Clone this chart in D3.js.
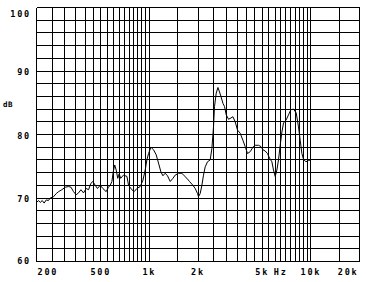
<!DOCTYPE html>
<html><head><meta charset="utf-8">
<script src="https://cdn.jsdelivr.net/npm/d3@7"></script>
<style>
html,body{margin:0;padding:0;background:#fff;}
text{font-family:"DejaVu Sans Mono",monospace;font-weight:bold;font-size:8.5px;letter-spacing:1.8px;fill:#000;}
</style></head>
<body><svg id="c" width="366" height="282"></svg>
<script>
// Frequency response data (Hz, dB)
const freqs = [200,206,211,217,223,230,237,243,255,265,274,287,301,316,327,339,352,364,377,391,406,420,434,447,462,477,496,515,540,558,572,586,597,610,623,637,650,664,691,726,743,779,805,837,877,912,942,965,988,1022,1061,1102,1139,1179,1213,1253,1295,1346,1399,1445,1515,1590,1643,1707,1772,1860,1922,1986,2014,2063,2114,2163,2216,2290,2380,2438,2495,2531,2593,2657,2719,2774,2855,2920,2991,3091,3198,3290,3399,3513,3650,3793,3920,4052,4211,4376,4522,4740,4905,5046,5213,5386,5542,5735,5868,6012,6159,6302,6457,6615,6767,7031,7267,7521,7804,8110,8382,8587,8798,9002,9316,9668,9976];
const levels = [69.3,69.6,69.3,69.6,69.2,69.7,69.6,70.0,70.2,70.7,71.0,71.3,71.7,71.8,71.7,71.0,70.5,70.8,71.3,70.8,71.5,71.3,72.3,72.6,72.0,71.5,72.0,71.5,71.0,71.7,72.0,72.6,74.1,75.2,74.4,73.1,73.8,73.1,73.6,73.4,72.0,71.3,71.0,71.5,71.8,72.8,74.4,76.0,77.0,78.0,77.6,76.8,75.5,74.1,73.5,73.9,73.5,72.6,73.1,73.6,73.9,73.9,73.5,73.1,72.6,72.0,71.5,70.7,70.2,70.7,72.0,73.6,74.9,75.7,76.0,77.8,81.2,84.4,86.5,87.4,86.7,86.0,84.9,84.4,83.1,82.4,82.6,82.8,82.0,80.7,80.2,79.1,78.1,77.0,77.3,78.0,78.3,78.3,78.1,77.6,77.4,77.0,76.3,75.7,74.4,73.4,74.4,76.0,78.3,80.4,81.8,82.3,83.1,83.9,84.0,83.4,81.2,79.1,77.0,76.1,75.7,75.9,76.0];

const xTickValues = [200,500,1000,2000,5000,10000,20000];
const xTickLabels = ["200","500","1k","2k","5k","10k","20k"];
const yTickValues = [60,70,80,90,100];
const unitX = "Hz", unitY = "dB";

const xGrid = [].concat(d3.range(200,1000,50), d3.range(1000,10000,500), [10000,15000,20000]);
const yGrid = d3.range(60,101,2);

const svg = d3.select("#c");
const x = d3.scaleLog().domain([200,20000]).range([36.5,359.5]);
const y = d3.scaleLinear().domain([60,100]).range([261.5,7.5]);

const g = svg.append("g").attr("shape-rendering","crispEdges").attr("stroke","#000").attr("stroke-width",1);
g.selectAll("line.v").data(xGrid).join("line")
  .attr("x1",d=>x(d)).attr("x2",d=>x(d)).attr("y1",y(100)).attr("y2",y(60));
g.selectAll("line.h").data(yGrid).join("line")
  .attr("y1",d=>y(d)).attr("y2",d=>y(d)).attr("x1",x(200)).attr("x2",x(20000));

const line = d3.line().x((d,i)=>x(freqs[i])).y(d=>y(d));
svg.append("path").datum(levels).attr("d",line)
  .attr("fill","none").attr("stroke","#000").attr("stroke-width",1)
  .attr("stroke-linejoin","miter");

// X labels
svg.selectAll("text.xl").data(xTickValues).join("text")
  .attr("class","xl")
  .attr("x",(d,i)=> i===0 ? x(d)+1 : (i===xTickValues.length-1 ? x(d)-1 : x(d)))
  .attr("y",275)
  .attr("text-anchor",(d,i)=> i===0 ? "start" : (i===xTickValues.length-1 ? "end" : "middle"))
  .text((d,i)=>xTickLabels[i]);
svg.append("text").attr("x",x(6500)).attr("y",275).attr("text-anchor","middle").text(unitX);

// Y labels
svg.selectAll("text.yl").data(yTickValues).join("text")
  .attr("class","yl")
  .attr("x",31).attr("y",d=>Math.min(Math.max(y(d)+4,17),264))
  .attr("text-anchor","end")
  .text(d=>d);
svg.append("text").attr("x",3).attr("y",107).style("font-size","7.5px").style("letter-spacing","0.5px").text(unitY);
</script></body></html>
